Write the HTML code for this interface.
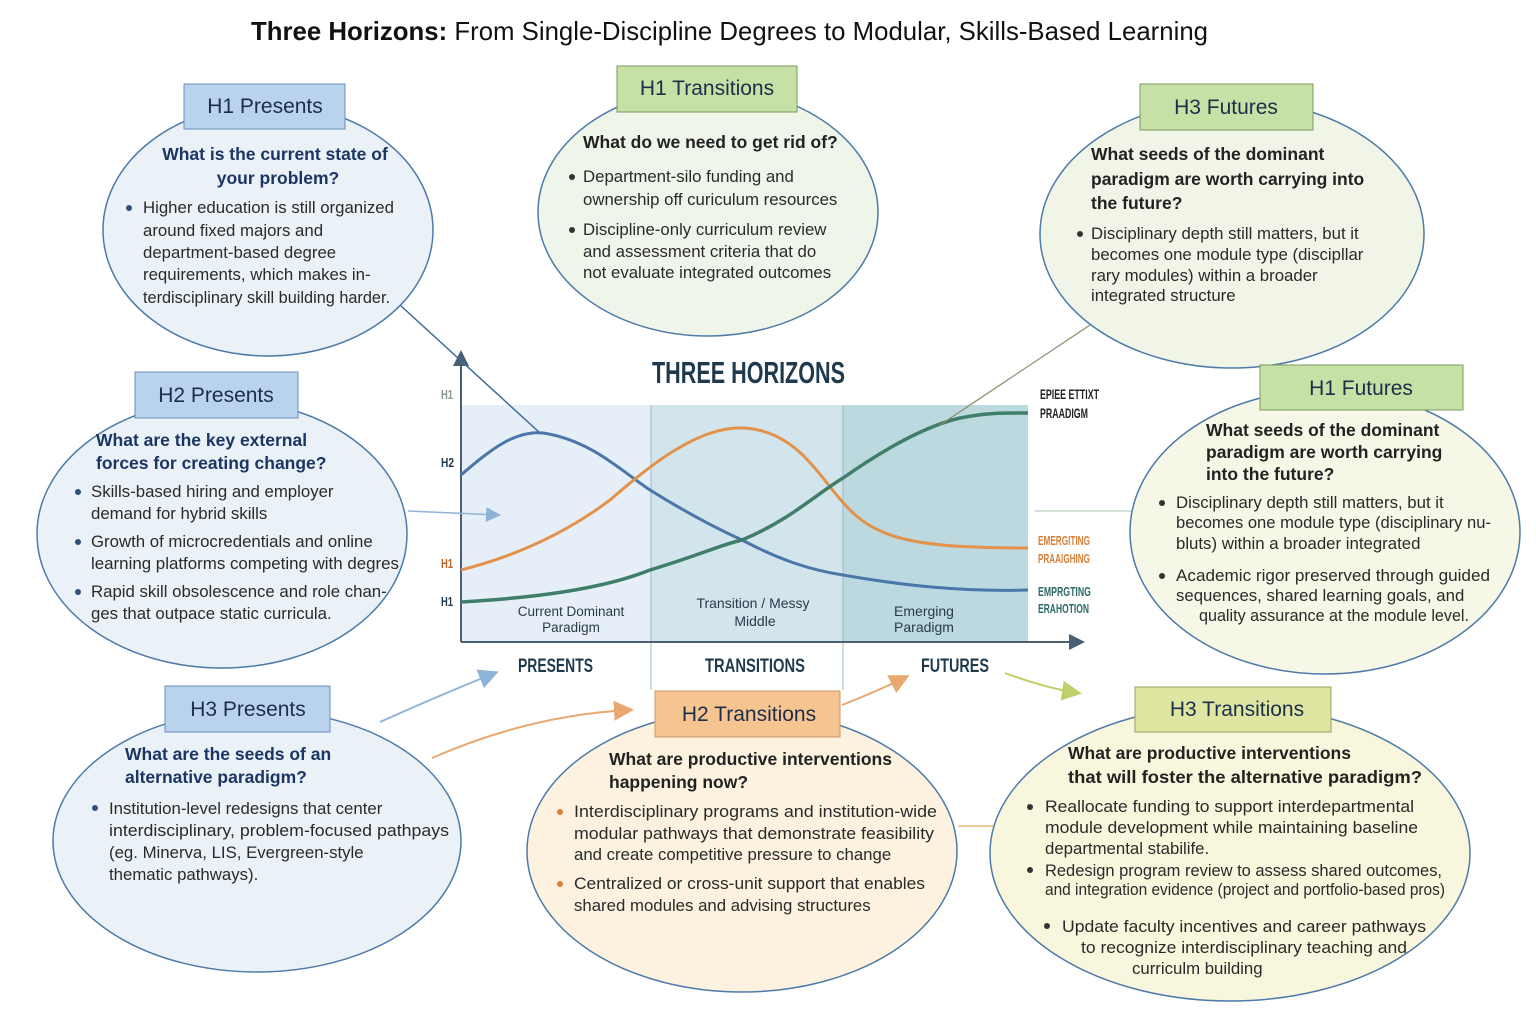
<!DOCTYPE html>
<html><head><meta charset="utf-8"><style>
html,body{margin:0;padding:0;background:#fff}
svg{display:block}
text{font-family:"Liberation Sans",sans-serif}
.b{font-size:16.8px;fill:#2a2a2a}
.q{font-size:17.5px;font-weight:bold;fill:#1b3564}
.qd{font-size:17.5px;font-weight:bold;fill:#222}
.lab{font-size:21px;fill:#1c2f4a}
.n{font-family:"Liberation Sans Narrow","Liberation Sans",sans-serif;font-weight:bold}
</style></head><body>
<svg width="1536" height="1024" viewBox="0 0 1536 1024" xmlns="http://www.w3.org/2000/svg">
<defs>
<marker id="ab" markerWidth="10" markerHeight="10" refX="8" refY="5" orient="auto"><path d="M0,0 L10,5 L0,10 z" fill="#8fb3d6"/></marker>
<marker id="ao" markerWidth="10" markerHeight="10" refX="8" refY="5" orient="auto"><path d="M0,0 L10,5 L0,10 z" fill="#e8a870"/></marker>
<marker id="ay" markerWidth="10" markerHeight="10" refX="8" refY="5" orient="auto"><path d="M0,0 L10,5 L0,10 z" fill="#bfcf6a"/></marker>
<marker id="ax" markerWidth="8" markerHeight="8" refX="7" refY="4" orient="auto"><path d="M0,0 L8,4 L0,8 z" fill="#4b5d70"/></marker>
</defs>
<rect width="1536" height="1024" fill="#fff"/>
<text x="251" y="40" font-size="26" fill="#111" textLength="957" lengthAdjust="spacingAndGlyphs"><tspan font-weight="bold">Three Horizons:</tspan> From Single-Discipline Degrees to Modular, Skills-Based Learning</text>

<!-- chart -->
<rect x="461" y="405" width="190" height="237" fill="#e6eff7"/>
<rect x="651" y="405" width="192" height="237" fill="#d3e5ec"/>
<rect x="843" y="405" width="185" height="237" fill="#bcd9df"/>
<line x1="651" y1="405" x2="651" y2="690" stroke="#9ab8cc" stroke-width="1"/>
<line x1="843" y1="405" x2="843" y2="690" stroke="#9ab8cc" stroke-width="1"/>
<line x1="461" y1="642" x2="461" y2="352" stroke="#4b5d70" stroke-width="2" marker-end="url(#ax)"/>
<line x1="461" y1="642" x2="1083" y2="642" stroke="#4b5d70" stroke-width="2" marker-end="url(#ax)"/>
<path d="M461,475 C490,450 515,430 543,433 C590,440 620,470 650,490 C690,515 720,530 742,540 C780,560 810,570 843,575 C900,585 960,592 1028,590" fill="none" stroke="#4a77a8" stroke-width="3"/>
<path d="M461,570 C520,555 570,530 610,500 C650,465 700,425 745,428 C800,432 820,480 850,510 C880,540 920,548 1028,548" fill="none" stroke="#e3924c" stroke-width="3"/>
<path d="M461,602 C530,598 600,590 650,570 C700,555 720,545 742,540 C790,520 815,495 843,478 C890,445 930,425 960,418 C990,412 1010,413 1028,413" fill="none" stroke="#3f7f6a" stroke-width="3.5"/>
<text x="652" y="383" class="n" font-size="31" fill="#1f3a4d" textLength="193" lengthAdjust="spacingAndGlyphs">THREE HORIZONS</text>
<text x="441" y="399" class="n" font-size="13" fill="#8a9398" textLength="12" lengthAdjust="spacingAndGlyphs">H1</text>
<text x="441" y="467" class="n" font-size="13" fill="#1f3a4d" textLength="13" lengthAdjust="spacingAndGlyphs">H2</text>
<text x="441" y="568" class="n" font-size="13" fill="#c0612a" textLength="12" lengthAdjust="spacingAndGlyphs">H1</text>
<text x="441" y="606" class="n" font-size="13" fill="#1f3a4d" textLength="12" lengthAdjust="spacingAndGlyphs">H1</text>
<text x="1040" y="399" class="n" font-size="14" fill="#222" textLength="59" lengthAdjust="spacingAndGlyphs">EPIEE ETTIXT</text>
<text x="1040" y="418" class="n" font-size="14" fill="#222" textLength="48" lengthAdjust="spacingAndGlyphs">PRAADIGM</text>
<text x="1038" y="545" class="n" font-size="13" fill="#d7803c" textLength="52" lengthAdjust="spacingAndGlyphs">EMERGITING</text>
<text x="1038" y="563" class="n" font-size="13" fill="#d7803c" textLength="52" lengthAdjust="spacingAndGlyphs">PRAAIGHING</text>
<text x="1038" y="596" class="n" font-size="13" fill="#2e6a66" textLength="53" lengthAdjust="spacingAndGlyphs">EMPRGTING</text>
<text x="1038" y="613" class="n" font-size="13" fill="#2e6a66" textLength="51" lengthAdjust="spacingAndGlyphs">ERAHOTION</text>
<text x="571" y="616" text-anchor="middle" font-size="13.5" fill="#2a3a48">Current Dominant</text>
<text x="571" y="632" text-anchor="middle" font-size="13.5" fill="#2a3a48">Paradigm</text>
<text x="753" y="608" text-anchor="middle" font-size="14" fill="#2a3a48">Transition / Messy</text>
<text x="755" y="626" text-anchor="middle" font-size="14" fill="#2a3a48">Middle</text>
<text x="924" y="616" text-anchor="middle" font-size="14" fill="#2a3a48">Emerging</text>
<text x="924" y="632" text-anchor="middle" font-size="14" fill="#2a3a48">Paradigm</text>
<text x="518" y="672" class="n" font-size="19" fill="#1f3a4d" textLength="75" lengthAdjust="spacingAndGlyphs">PRESENTS</text>
<text x="705" y="672" class="n" font-size="19" fill="#1f3a4d" textLength="100" lengthAdjust="spacingAndGlyphs">TRANSITIONS</text>
<text x="921" y="672" class="n" font-size="19" fill="#1f3a4d" textLength="68" lengthAdjust="spacingAndGlyphs">FUTURES</text>

<!-- connectors -->
<line x1="400" y1="305" x2="540" y2="433" stroke="#3e6b9a" stroke-width="1.5"/>
<line x1="408" y1="511" x2="498" y2="515" stroke="#8fb3d6" stroke-width="1.5" marker-end="url(#ab)"/>
<line x1="1090" y1="325" x2="940" y2="425" stroke="#8a8a6a" stroke-width="1.2"/>
<line x1="1035" y1="511" x2="1146" y2="511" stroke="#c8d8c8" stroke-width="1.5"/>
<path d="M380,722 Q440,695 495,673" fill="none" stroke="#8fb3d6" stroke-width="2" marker-end="url(#ab)"/>
<path d="M432,758 Q530,715 630,710" fill="none" stroke="#e8a870" stroke-width="2" marker-end="url(#ao)"/>
<path d="M842,705 Q880,690 906,677" fill="none" stroke="#e8a870" stroke-width="2" marker-end="url(#ao)"/>
<path d="M1005,673 Q1045,688 1078,693" fill="none" stroke="#bfcf6a" stroke-width="2" marker-end="url(#ay)"/>
<line x1="958" y1="826" x2="1010" y2="826" stroke="#e8b880" stroke-width="1.5"/>

<!-- ellipses -->
<ellipse cx="268" cy="230" rx="165" ry="126" fill="#eaf1f7" stroke="#4d7aa8" stroke-width="1.5"/>
<ellipse cx="708" cy="212" rx="170" ry="124" fill="#f0f5ea" stroke="#4d7aa8" stroke-width="1.5"/>
<ellipse cx="1232" cy="234" rx="192" ry="134" fill="#f0f5e8" stroke="#4d7aa8" stroke-width="1.5"/>
<ellipse cx="222" cy="534" rx="185" ry="134" fill="#eaf1f7" stroke="#4d7aa8" stroke-width="1.5"/>
<ellipse cx="1325" cy="532" rx="195" ry="142" fill="#f6f7e6" stroke="#4d7aa8" stroke-width="1.5"/>
<ellipse cx="257" cy="841" rx="204" ry="131" fill="#eaf1f7" stroke="#4d7aa8" stroke-width="1.5"/>
<ellipse cx="742" cy="851" rx="215" ry="141" fill="#fcf2df" stroke="#4d7aa8" stroke-width="1.5"/>
<ellipse cx="1230" cy="853" rx="240" ry="148" fill="#f8f6dc" stroke="#4d7aa8" stroke-width="1.5"/>

<!-- labels -->
<rect x="184" y="84" width="161" height="45" fill="#b9d3ec" stroke="#6a8fb8"/>
<text x="265" y="113" text-anchor="middle" class="lab">H1 Presents</text>
<rect x="617" y="66" width="180" height="46" fill="#c6e0a6" stroke="#7a9a60"/>
<text x="707" y="95" text-anchor="middle" class="lab" fill="#1e2e1e">H1 Transitions</text>
<rect x="1140" y="84" width="173" height="46" fill="#c6e0a6" stroke="#7a9a60"/>
<text x="1226" y="114" text-anchor="middle" class="lab">H3 Futures</text>
<rect x="135" y="372" width="163" height="46" fill="#b9d3ec" stroke="#6a8fb8"/>
<text x="216" y="402" text-anchor="middle" class="lab">H2 Presents</text>
<rect x="1260" y="365" width="203" height="45" fill="#c6e0a6" stroke="#7a9a60"/>
<text x="1361" y="395" text-anchor="middle" class="lab">H1 Futures</text>
<rect x="165" y="686" width="165" height="46" fill="#b9d3ec" stroke="#6a8fb8"/>
<text x="248" y="716" text-anchor="middle" class="lab">H3 Presents</text>
<rect x="655" y="691" width="185" height="46" fill="#f6c491" stroke="#c99a6a"/>
<text x="749" y="721" text-anchor="middle" class="lab" fill="#222">H2 Transitions</text>
<rect x="1135" y="687" width="196" height="45" fill="#dfe6a2" stroke="#9aa060"/>
<text x="1237" y="716" text-anchor="middle" class="lab" fill="#222">H3 Transitions</text>

<!-- H1 Presents -->
<text x="275" y="160" text-anchor="middle" class="q">What is the current state of</text>
<text x="278" y="184" text-anchor="middle" class="q">your problem?</text>
<circle cx="129" cy="208" r="3" fill="#2e4f80"/>
<text x="143" y="213" class="b">Higher education is still organized</text>
<text x="143" y="236" class="b">around fixed majors and</text>
<text x="143" y="258" class="b">department-based degree</text>
<text x="143" y="280" class="b">requirements, which makes in-</text>
<text x="143" y="303" class="b" textLength="247" lengthAdjust="spacingAndGlyphs">terdisciplinary skill building harder.</text>

<!-- H1 Transitions -->
<text x="583" y="148" class="qd">What do we need to get rid of?</text>
<circle cx="572" cy="177" r="3" fill="#333"/>
<text x="583" y="182" class="b">Department-silo funding and</text>
<text x="583" y="205" class="b">ownership off curiculum resources</text>
<circle cx="572" cy="230" r="3" fill="#333"/>
<text x="583" y="235" class="b">Discipline-only curriculum review</text>
<text x="583" y="257" class="b">and assessment criteria that do</text>
<text x="583" y="278" class="b">not evaluate integrated outcomes</text>

<!-- H3 Futures -->
<text x="1091" y="160" class="qd">What seeds of the dominant</text>
<text x="1091" y="185" class="qd">paradigm are worth carrying into</text>
<text x="1091" y="209" class="qd">the future?</text>
<circle cx="1080" cy="234" r="3" fill="#333"/>
<text x="1091" y="239" class="b">Disciplinary depth still matters, but it</text>
<text x="1091" y="260" class="b">becomes one module type (discipllar</text>
<text x="1091" y="281" class="b">rary modules) within a broader</text>
<text x="1091" y="301" class="b">integrated structure</text>

<!-- H2 Presents -->
<text x="96" y="446" class="q">What are the key external</text>
<text x="96" y="469" class="q">forces for creating change?</text>
<circle cx="78" cy="492" r="3" fill="#2e4f80"/>
<text x="91" y="497" class="b">Skills-based hiring and employer</text>
<text x="91" y="519" class="b">demand for hybrid skills</text>
<circle cx="78" cy="542" r="3" fill="#2e4f80"/>
<text x="91" y="547" class="b">Growth of microcredentials and online</text>
<text x="91" y="569" class="b" textLength="308" lengthAdjust="spacingAndGlyphs">learning platforms competing with degres</text>
<circle cx="78" cy="592" r="3" fill="#2e4f80"/>
<text x="91" y="597" class="b">Rapid skill obsolescence and role chan-</text>
<text x="91" y="619" class="b">ges that outpace static curricula.</text>

<!-- H1 Futures -->
<text x="1206" y="436" class="qd">What seeds of the dominant</text>
<text x="1206" y="458" class="qd">paradigm are worth carrying</text>
<text x="1206" y="480" class="qd">into the future?</text>
<circle cx="1162" cy="503" r="3" fill="#333"/>
<text x="1176" y="508" class="b">Disciplinary depth still matters, but it</text>
<text x="1176" y="528" class="b" textLength="315" lengthAdjust="spacingAndGlyphs">becomes one module type (disciplinary nu-</text>
<text x="1176" y="549" class="b">bluts) within a broader integrated</text>
<circle cx="1162" cy="576" r="3" fill="#333"/>
<text x="1176" y="581" class="b" textLength="314" lengthAdjust="spacingAndGlyphs">Academic rigor preserved through guided</text>
<text x="1176" y="601" class="b">sequences, shared learning goals, and</text>
<text x="1199" y="621" class="b" textLength="270" lengthAdjust="spacingAndGlyphs">quality assurance at the module level.</text>

<!-- H3 Presents -->
<text x="125" y="760" class="q">What are the seeds of an</text>
<text x="125" y="783" class="q">alternative paradigm?</text>
<circle cx="95" cy="808" r="3" fill="#2e4f80"/>
<text x="109" y="814" class="b">Institution-level redesigns that center</text>
<text x="109" y="836" class="b" textLength="340" lengthAdjust="spacingAndGlyphs">interdisciplinary, problem-focused pathpays</text>
<text x="109" y="858" class="b">(eg. Minerva, LIS, Evergreen-style</text>
<text x="109" y="880" class="b">thematic pathways).</text>

<!-- H2 Transitions -->
<text x="609" y="765" class="qd">What are productive interventions</text>
<text x="609" y="788" class="qd">happening now?</text>
<circle cx="560" cy="812" r="3" fill="#d8823e"/>
<text x="574" y="817" class="b" textLength="363" lengthAdjust="spacingAndGlyphs">Interdisciplinary programs and institution-wide</text>
<text x="574" y="839" class="b" textLength="360" lengthAdjust="spacingAndGlyphs">modular pathways that demonstrate feasibility</text>
<text x="574" y="860" class="b">and create competitive pressure to change</text>
<circle cx="560" cy="884" r="3" fill="#d8823e"/>
<text x="574" y="889" class="b" textLength="351" lengthAdjust="spacingAndGlyphs">Centralized or cross-unit support that enables</text>
<text x="574" y="911" class="b">shared modules and advising structures</text>

<!-- H3 Transitions -->
<text x="1068" y="759" class="qd">What are productive interventions</text>
<text x="1068" y="783" class="qd" textLength="354" lengthAdjust="spacingAndGlyphs">that will foster the alternative paradigm?</text>
<circle cx="1030" cy="807" r="3" fill="#333"/>
<text x="1045" y="812" class="b" textLength="369" lengthAdjust="spacingAndGlyphs">Reallocate funding to support interdepartmental</text>
<text x="1045" y="833" class="b" textLength="373" lengthAdjust="spacingAndGlyphs">module development while maintaining baseline</text>
<text x="1045" y="854" class="b">departmental  stabilife.</text>
<circle cx="1030" cy="870" r="3" fill="#333"/>
<text x="1045" y="876" class="b" textLength="397" lengthAdjust="spacingAndGlyphs">Redesign program review to assess shared outcomes,</text>
<text x="1045" y="895" class="b" textLength="400" lengthAdjust="spacingAndGlyphs">and integration evidence (project and portfolio-based pros)</text>
<circle cx="1047" cy="926" r="3" fill="#333"/>
<text x="1062" y="932" class="b" textLength="364" lengthAdjust="spacingAndGlyphs">Update faculty incentives and career pathways</text>
<text x="1081" y="953" class="b" textLength="326" lengthAdjust="spacingAndGlyphs">to recognize interdisciplinary teaching and</text>
<text x="1132" y="974" class="b">curriculm building</text>
</svg>
</body></html>
